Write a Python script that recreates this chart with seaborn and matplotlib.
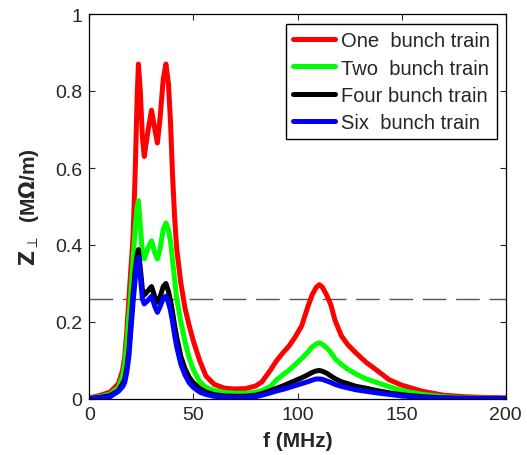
import matplotlib
matplotlib.use("Agg")
import matplotlib.pyplot as plt
from matplotlib.ticker import FormatStrFormatter
import pandas as pd
import seaborn as sns

# Frequency samples (MHz)
freq = [0, 5, 10, 14, 16, 17, 18, 19, 20, 21,
        22, 23, 23.6, 24.5, 25.5, 26.4, 28, 29.9, 31.5, 32.7,
        34, 35.5, 36.8, 38, 39, 40, 41, 42, 44, 46,
        48, 50, 53, 56, 60, 65, 70, 75, 80, 83,
        87, 90, 93, 96, 99, 102, 105, 107, 109, 110.5,
        112, 114, 116, 118, 121, 124, 128, 133, 138, 144,
        150, 160, 170, 180, 190, 200]

# Transverse impedance (MOhm/m) for each bunch-train configuration
z_one = [0.003, 0.009, 0.018, 0.04, 0.075, 0.11, 0.175, 0.26, 0.34, 0.42,
         0.58, 0.79, 0.87, 0.80, 0.68, 0.63, 0.69, 0.75, 0.70, 0.665,
         0.73, 0.83, 0.87, 0.82, 0.72, 0.58, 0.47, 0.39, 0.30, 0.235,
         0.19, 0.15, 0.10, 0.06, 0.038, 0.028, 0.026, 0.027, 0.034, 0.045,
         0.075, 0.10, 0.12, 0.138, 0.162, 0.19, 0.24, 0.27, 0.29, 0.297,
         0.29, 0.27, 0.245, 0.205, 0.165, 0.142, 0.12, 0.095, 0.075, 0.05,
         0.036, 0.02, 0.01, 0.006, 0.004, 0.003]
z_two = [0.002, 0.006, 0.013, 0.03, 0.06, 0.09, 0.14, 0.21, 0.28, 0.36,
         0.44, 0.50, 0.515, 0.45, 0.38, 0.364, 0.39, 0.411, 0.38, 0.364,
         0.39, 0.44, 0.457, 0.44, 0.41, 0.36, 0.31, 0.26, 0.20, 0.148,
         0.106, 0.076, 0.045, 0.03, 0.022, 0.017, 0.015, 0.015, 0.018, 0.022,
         0.033, 0.05, 0.063, 0.075, 0.09, 0.105, 0.122, 0.135, 0.143, 0.146,
         0.142, 0.133, 0.121, 0.105, 0.09, 0.078, 0.065, 0.052, 0.043, 0.032,
         0.022, 0.012, 0.006, 0.003, 0.002, 0.001]
z_four = [0.001, 0.004, 0.009, 0.022, 0.04, 0.05, 0.08, 0.125, 0.2, 0.27,
          0.33, 0.375, 0.388, 0.34, 0.285, 0.27, 0.28, 0.292, 0.265, 0.251,
          0.265, 0.292, 0.30, 0.28, 0.255, 0.225, 0.19, 0.16, 0.11, 0.078,
          0.056, 0.042, 0.027, 0.018, 0.011, 0.008, 0.007, 0.007, 0.01, 0.014,
          0.022, 0.028, 0.034, 0.041, 0.048, 0.055, 0.063, 0.069, 0.073, 0.074,
          0.072, 0.067, 0.06, 0.053, 0.045, 0.04, 0.033, 0.028, 0.022, 0.016,
          0.011, 0.006, 0.003, 0.002, 0.001, 0.001]
z_six = [0.001, 0.003, 0.006, 0.02, 0.032, 0.043, 0.07, 0.11, 0.18, 0.25,
         0.31, 0.355, 0.368, 0.32, 0.26, 0.247, 0.255, 0.267, 0.24, 0.225,
         0.24, 0.262, 0.267, 0.25, 0.23, 0.20, 0.165, 0.135, 0.09, 0.062,
         0.042, 0.03, 0.018, 0.012, 0.007, 0.005, 0.004, 0.004, 0.006, 0.01,
         0.016, 0.021, 0.025, 0.03, 0.035, 0.04, 0.045, 0.049, 0.052, 0.052,
         0.051, 0.047, 0.043, 0.038, 0.033, 0.029, 0.024, 0.02, 0.016, 0.012,
         0.008, 0.004, 0.002, 0.001, 0.001, 0.001]

labels = ["One  bunch train", "Two  bunch train", "Four bunch train", "Six  bunch train"]
colors = ["#ff0000", "#00ff00", "#000000", "#0000ff"]
threshold = 0.26

x_ticks = [0, 50, 100, 150, 200]
y_ticks = [0, 0.2, 0.4, 0.6, 0.8, 1]

frames = []
for lab, vals in zip(labels, [z_one, z_two, z_four, z_six]):
    frames.append(pd.DataFrame({"f": freq, "Z": vals, "series": lab}))
df = pd.concat(frames, ignore_index=True)

sns.set_style("ticks")
plt.rcParams["font.family"] = ["Liberation Sans", "DejaVu Sans"]
plt.rcParams["mathtext.fontset"] = "dejavusans"

fig = plt.figure(figsize=(5.27, 4.56), dpi=100)
ax = fig.add_axes([89.3 / 527, 56 / 456, 416.4 / 527, 385 / 456])

sns.lineplot(data=df, x="f", y="Z", hue="series", hue_order=labels,
             palette=colors, linewidth=3.6, estimator=None, sort=False, ax=ax)
for ln in ax.get_lines():
    ln.set_solid_joinstyle("round")
    ln.set_solid_capstyle("round")

ax.axhline(threshold, color="#555555", linewidth=1.0, dashes=(17, 7), zorder=0)

ax.set_xlim(0, 200)
ax.set_ylim(0, 1)
ax.set_xticks(x_ticks)
ax.set_yticks(y_ticks)
ax.yaxis.set_major_formatter(FormatStrFormatter("%g"))
ax.tick_params(direction="in", length=4, width=0.8, top=True, right=True,
               labelsize=14, pad=5)
for s in ax.spines.values():
    s.set_visible(True)
    s.set_linewidth(0.9)
    s.set_color("black")

ax.set_xlabel("f (MHz)", fontsize=15, fontweight="bold", labelpad=6)
ax.set_ylabel(r"$\mathbf{Z}_{\perp}$  (M$\mathbf{\Omega}$/m)", fontsize=15,
              fontweight="bold", labelpad=10)

handles, labs = ax.get_legend_handles_labels()
leg = ax.legend(handles, labs, loc="upper right", bbox_to_anchor=(0.979, 0.974),
                borderaxespad=0, fontsize=14.5, handlelength=2.1,
                handletextpad=0.3, labelspacing=0.42, borderpad=0.35,
                fancybox=False, framealpha=1, edgecolor="black")
leg.get_frame().set_linewidth(1.0)
for ln in leg.get_lines():
    ln.set_linewidth(3.6)

fig.savefig("out.png", dpi=100)
